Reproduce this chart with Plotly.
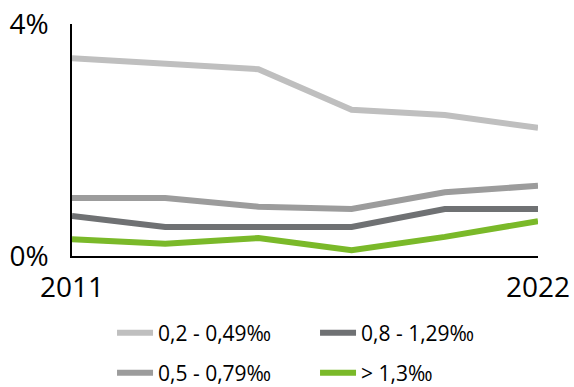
import plotly.graph_objects as go

# six observations, only first and last year labelled on the axis
years = ["2011", "", "", "", "", "2022"]
x_pos = [0, 1, 2, 3, 4, 5]

low = [3.41, 3.32, 3.22, 2.52, 2.43, 2.21]        # 0,2 - 0,49‰
mid = [1.00, 1.00, 0.85, 0.81, 1.10, 1.21]        # 0,5 - 0,79‰
high = [0.69, 0.50, 0.50, 0.50, 0.81, 0.81]       # 0,8 - 1,29‰
top = [0.29, 0.21, 0.31, 0.10, 0.33, 0.60]        # > 1,3‰

FONT = "Open Sans, Liberation Sans, sans-serif"

series = [
    ("0,2 - 0,49‰", low, "#BFBFBF", "legend"),
    ("0,8 - 1,29‰", high, "#6F7173", "legend"),
    ("0,5 - 0,79‰", mid, "#9C9C9C", "legend2"),
    ("> 1,3‰", top, "#7AB929", "legend2"),
]

fig = go.Figure()
for name, values, color, leg in series:
    fig.add_trace(
        go.Scatter(
            x=x_pos,
            y=values,
            mode="lines",
            name=name,
            legend=leg,
            line=dict(color=color, width=6),
            hoverinfo="skip",
        )
    )

legend_style = dict(
    orientation="h",
    xanchor="left",
    yanchor="middle",
    x=0.0859,
    font=dict(family=FONT, size=21, color="#000000"),
    entrywidth=152,
    entrywidthmode="pixels",
    itemwidth=36,
    bgcolor="rgba(0,0,0,0)",
    traceorder="normal",
)

fig.update_layout(
    width=574,
    height=387,
    paper_bgcolor="white",
    plot_bgcolor="white",
    margin=dict(l=72, r=36, t=24, b=131, autoexpand=False),
    font=dict(family=FONT, color="#000000"),
    showlegend=True,
    legend=dict(legend_style, y=-0.332),
    legend2=dict(legend_style, y=-0.505),
)
fig.update_xaxes(
    range=[0, 5],
    tickvals=x_pos,
    ticktext=years,
    showgrid=False,
    zeroline=False,
    showline=True,
    linecolor="#000000",
    linewidth=1.5,
    ticks="",
    ticklabelstandoff=6,
    tickfont=dict(family=FONT, size=28, color="#000000"),
)
fig.update_yaxes(
    range=[0, 4],
    tickvals=[0, 4],
    ticktext=["0%", "4%"],
    showgrid=False,
    zeroline=False,
    showline=True,
    linecolor="#000000",
    linewidth=1.5,
    ticks="",
    ticklabelstandoff=16,
    tickfont=dict(family=FONT, size=28, color="#000000"),
)

# page body has a default 8px margin; drop it so the figure fills the window
fig.write_html(
    "out.html",
    config={"displayModeBar": False},
    post_script="document.body.style.margin='0';",
)
